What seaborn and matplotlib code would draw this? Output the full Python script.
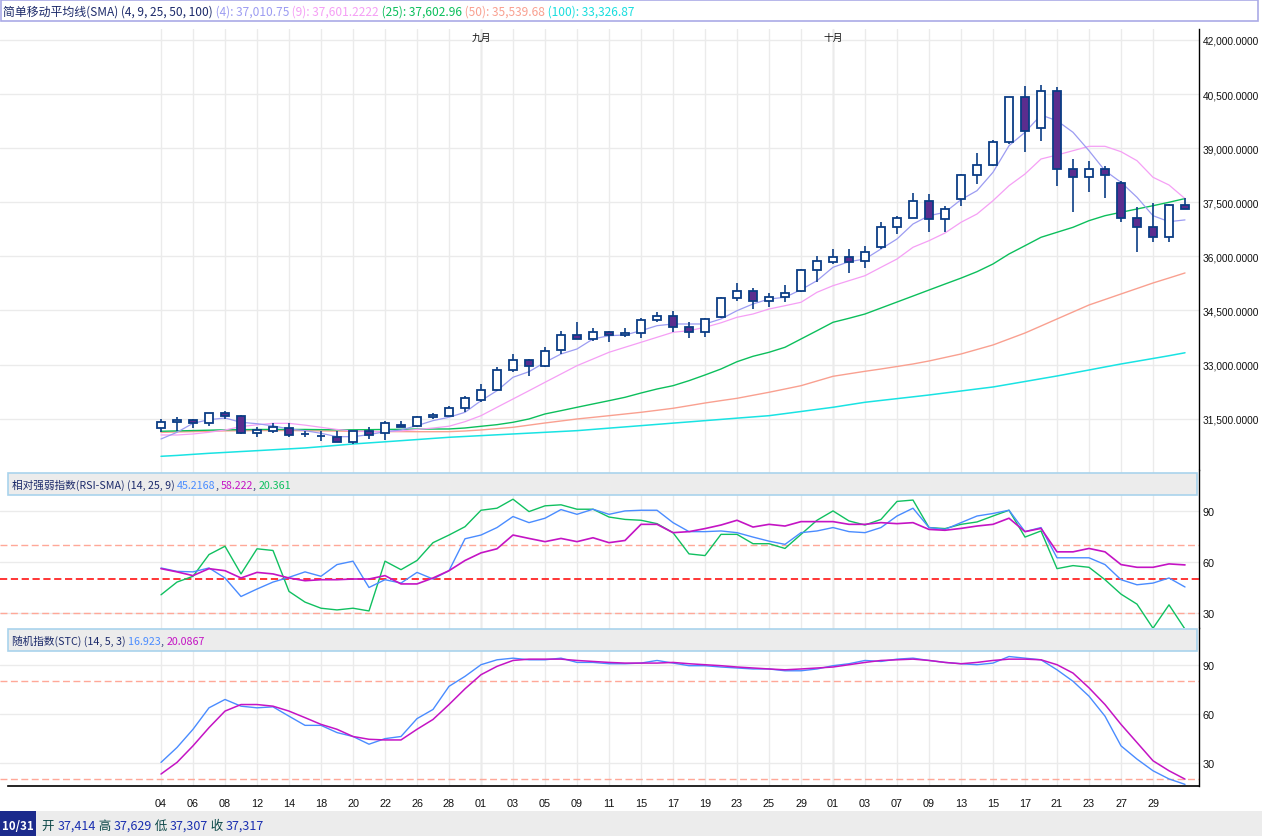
import numpy as np
import matplotlib
matplotlib.use("Agg")
import matplotlib.pyplot as plt
from matplotlib.patches import Rectangle
import seaborn as sns

# =========================
# Data
# =========================
days = [4, 5, 6, 7, 8, 11, 12, 13, 14, 15, 18, 19, 20, 21, 22, 25, 26, 27, 28, 29,
        1, 2, 3, 4, 5, 8, 9, 10, 11, 12, 15, 16, 17, 18, 19, 22, 23, 24, 25, 26, 29, 30,
        1, 2, 3, 6, 7, 8, 9, 10, 13, 14, 15, 16, 17, 20, 21, 22, 23, 24, 27, 28, 29, 30, 31]
month_names = ["九月", "十月"]

open_ = [31233, 31399, 31455, 31372, 31658, 31582, 31094, 31167, 31233, 31075,
         31028, 31000, 30844, 31149, 31094, 31334, 31306, 31538, 31582, 31787,
         32026, 32303, 32841, 33118, 32952, 33396, 33811, 33700, 33895, 33811,
         33867, 34228, 34339, 34033, 33895, 34311, 34838, 35032, 34771, 34865,
         35048, 35614, 35850, 35975, 35880, 36252, 36807, 37056, 37528, 37028,
         37583, 38248, 38526, 39163, 40411, 39552, 40578, 38415, 38193, 38415,
         38026, 37056, 36807, 36529, 37414]
high = [31490, 31538, 31491, 31660, 31720, 31611, 31260, 31371, 31380, 31149,
        31149, 31149, 31149, 31260, 31445, 31427, 31582, 31649, 31860, 32137,
        32461, 32924, 33285, 33154, 33479, 33939, 34180, 34014, 33922, 34006,
        34283, 34450, 34477, 34172, 34283, 34865, 35262, 35123, 34976, 35206,
        35650, 36019, 36200, 36210, 36290, 36946, 37128, 37749, 37730, 37405,
        38284, 38867, 39227, 40411, 40733, 40761, 40705, 38700, 38653, 38515,
        38099, 37378, 37472, 37452, 37629]
low = [31122, 31149, 31233, 31288, 31491, 31066, 30983, 31102, 30983, 31000,
       30889, 30844, 30797, 30936, 30908, 31278, 31260, 31491, 31560, 31676,
       31970, 32275, 32785, 32675, 32924, 33285, 33700, 33645, 33617, 33756,
       33728, 34172, 33911, 33728, 33773, 34283, 34771, 34540, 34604, 34727,
       35020, 35281, 35795, 35530, 35686, 36200, 36621, 37056, 36684, 36684,
       37405, 38007, 38498, 39116, 38903, 39208, 37960, 37239, 37793, 37610,
       36945, 36130, 36407, 36407, 37307]
close = [31399, 31455, 31380, 31649, 31582, 31094, 31186, 31260, 31047, 31080,
         31030, 30844, 31149, 31047, 31371, 31278, 31538, 31602, 31796, 32064,
         32303, 32841, 33118, 32952, 33368, 33811, 33700, 33895, 33811, 33867,
         34228, 34339, 34033, 33895, 34256, 34838, 35032, 34771, 34865, 34976,
         35614, 35864, 35975, 35853, 36130, 36807, 37056, 37528, 37028, 37305,
         38248, 38526, 39163, 40411, 39485, 40578, 38415, 38193, 38415, 38248,
         37056, 36807, 36529, 37416, 37317]

sma4 = [30936, 31122, 31371, 31472, 31518, 31399, 31360, 31300, 31214, 31167,
        31094, 31000, 31000, 31056, 31139, 31186, 31306, 31445, 31538, 31676,
        31998, 32275, 32647, 32802, 33063, 33293, 33432, 33709, 33800, 33820,
        33939, 34078, 34125, 34125, 34125, 34264, 34494, 34680, 34818, 34865,
        35076, 35326, 35697, 35853, 35927, 36205, 36482, 36898, 37128, 37222,
        37572, 37822, 38332, 39069, 39441, 39920, 39762, 39441, 38930, 38376,
        38054, 37638, 37128, 36962, 37011]
sma9 = [31047, 31047, 31075, 31122, 31186, 31280, 31330, 31370, 31370, 31320,
        31260, 31200, 31160, 31140, 31140, 31160, 31200, 31240, 31290, 31416,
        31582, 31815, 32045, 32275, 32508, 32738, 32969, 33154, 33340, 33479,
        33617, 33756, 33895, 33939, 34033, 34158, 34311, 34402, 34540, 34632,
        34727, 35004, 35187, 35326, 35464, 35697, 35927, 36252, 36435, 36648,
        36945, 37175, 37544, 37960, 38284, 38700, 38811, 38930, 39052, 39052,
        38903, 38653, 38193, 37979, 37601]
sma25 = [31150, 31160, 31170, 31180, 31190, 31195, 31200, 31200, 31200, 31200,
         31195, 31190, 31190, 31195, 31200, 31205, 31210, 31212, 31214, 31241,
         31288, 31333, 31399, 31491, 31630, 31721, 31815, 31907, 31998, 32092,
         32211, 32322, 32414, 32553, 32711, 32877, 33079, 33229, 33340, 33479,
         33709, 33939, 34172, 34283, 34402, 34568, 34734, 34900, 35067, 35233,
         35397, 35575, 35789, 36066, 36296, 36529, 36668, 36806, 36990, 37128,
         37222, 37314, 37405, 37500, 37603]
sma50 = [31120, 31130, 31140, 31150, 31160, 31165, 31170, 31170, 31170, 31165,
         31160, 31155, 31150, 31145, 31140, 31140, 31138, 31138, 31139, 31158,
         31186, 31223, 31260, 31320, 31380, 31435, 31491, 31536, 31582, 31629,
         31676, 31731, 31787, 31860, 31934, 32000, 32064, 32148, 32231, 32322,
         32414, 32544, 32674, 32744, 32813, 32877, 32946, 33016, 33099, 33196,
         33293, 33418, 33543, 33709, 33875, 34069, 34264, 34458, 34652, 34804,
         34957, 35109, 35262, 35400, 35540]
sma100 = [30456, 30480, 30510, 30539, 30563, 30588, 30612, 30637, 30662, 30687,
          30723, 30760, 30797, 30828, 30858, 30889, 30920, 30952, 30983, 31006,
          31029, 31052, 31075, 31098, 31121, 31144, 31167, 31202, 31237, 31271,
          31306, 31341, 31376, 31410, 31445, 31479, 31514, 31548, 31582, 31640,
          31698, 31757, 31815, 31885, 31954, 32005, 32055, 32105, 32156, 32212,
          32267, 32323, 32378, 32454, 32530, 32607, 32683, 32766, 32849, 32933,
          33016, 33092, 33168, 33245, 33327]

rsi = [56.4, 54.4, 54.1, 56.4, 50.5, 39.6, 44.0, 48.1, 50.9, 54.1,
       51.5, 58.4, 60.4, 44.9, 49.5, 47.5, 53.8, 49.9, 54.8, 73.6,
       75.8, 80.2, 86.7, 83.1, 85.7, 90.8, 88.0, 91.0, 88.0, 90.0,
       90.4, 90.4, 83.1, 77.8, 77.8, 78.2, 77.2, 74.6, 72.2, 70.3,
       77.2, 78.2, 80.2, 77.8, 77.2, 80.2, 87.0, 91.6, 80.2, 79.1,
       83.1, 87.0, 88.5, 90.4, 77.8, 80.2, 62.4, 62.4, 62.4, 58.4,
       49.5, 46.5, 47.5, 50.5, 45.2]
rsi_sma = [56.0, 54.1, 51.9, 56.0, 54.8, 50.5, 53.8, 52.9, 50.5, 48.9,
           49.5, 49.5, 49.9, 49.9, 51.9, 47.0, 47.0, 50.5, 54.8, 60.8,
           65.3, 67.7, 75.8, 73.8, 71.9, 73.8, 71.9, 74.2, 71.3, 72.6,
           82.1, 82.1, 77.2, 77.8, 79.6, 81.7, 84.5, 80.5, 82.1, 81.1,
           83.7, 83.7, 83.7, 82.1, 82.1, 83.1, 82.5, 83.1, 79.1, 78.6,
           79.7, 81.1, 82.1, 85.7, 77.8, 79.7, 65.9, 65.9, 67.9, 65.9,
           58.4, 56.8, 56.8, 58.8, 58.2]
rsi_fast = [40.6, 48.1, 51.5, 64.3, 69.2, 52.9, 67.7, 66.7, 42.6, 36.3,
            32.7, 31.7, 32.7, 31.1, 60.4, 55.4, 60.8, 71.3, 75.8, 80.7,
            90.4, 91.6, 96.9, 89.6, 93.0, 93.6, 91.0, 91.0, 86.4, 85.0,
            84.5, 82.5, 77.2, 64.7, 63.7, 76.2, 76.2, 70.7, 70.7, 67.9,
            76.2, 84.5, 90.0, 84.1, 81.7, 85.0, 95.6, 96.4, 80.2, 79.6,
            82.1, 83.5, 87.0, 90.4, 74.6, 78.2, 56.0, 57.8, 56.8, 49.5,
            41.0, 35.1, 20.9, 34.7, 20.4]

stc_k = [30.3, 39.4, 50.5, 63.6, 68.7, 64.6, 63.6, 64.2, 58.5, 52.9,
         52.9, 48.5, 46.1, 41.4, 44.8, 46.1, 57.0, 62.6, 76.7, 82.8,
         89.9, 92.9, 93.9, 92.9, 92.9, 93.9, 91.3, 91.3, 90.5, 90.5,
         90.9, 92.5, 90.9, 89.3, 89.3, 88.5, 87.9, 87.3, 87.3, 86.2,
         86.2, 87.3, 89.3, 90.5, 92.5, 91.9, 93.3, 93.9, 92.5, 91.3,
         90.5, 89.9, 90.9, 94.9, 93.9, 92.9, 86.8, 79.8, 70.7, 58.5,
         40.4, 32.3, 25.2, 20.2, 16.9]
stc_d = [23.2, 30.3, 40.4, 51.5, 61.6, 65.6, 65.6, 64.6, 61.6, 57.6,
         53.5, 50.5, 46.1, 44.4, 44.0, 44.0, 50.5, 56.5, 65.6, 75.2,
         83.8, 88.9, 92.5, 93.3, 93.3, 93.3, 92.5, 91.9, 91.3, 90.9,
         90.9, 90.9, 91.3, 90.5, 89.9, 89.3, 88.5, 87.9, 87.3, 86.8,
         87.3, 87.9, 88.5, 89.9, 91.3, 92.5, 92.9, 93.3, 92.5, 91.3,
         90.5, 91.3, 92.5, 93.3, 93.3, 92.9, 89.9, 84.8, 75.8, 65.6,
         53.5, 42.4, 31.3, 25.2, 20.1]

price_ticks = [31500, 33000, 34500, 36000, 37500, 39000, 40500, 42000]
osc_ticks = [30, 60, 90]

# =========================
# Style
# =========================
sns.set_style("white")
CJK = ["Noto Sans CJK SC", "DejaVu Sans"]
plt.rcParams["font.family"] = CJK
NUM_FONT = "Liberation Sans"

C_EDGE = "#0b3d85"
C_DOWN = "#5b2d8e"
C_GRID = "#ebebeb"
C_MONTH = "#d4d4d4"
C_NAVY = "#1c2a6a"

W, H = 1262, 837
fig = plt.figure(figsize=(W / 100, H / 100), dpi=100, facecolor="white")


def px_axes(x0, y0, x1, y1):
    return fig.add_axes([x0 / W, 1 - y1 / H, (x1 - x0) / W, (y1 - y0) / H])


idx = np.arange(len(close))
o = np.array(open_)
c = np.array(close)
month_starts = [i for i in range(1, len(days)) if days[i] < days[i - 1]]
tick_pos = idx[::2][:-1]
tick_lab = [f"{days[i]:02d}" for i in tick_pos]
XL = (-161 / 16, (1199 - 161) / 16)


def base_style(ax, ylim, yticks, fmt, size=7.8):
    ax.set_xlim(*XL)
    ax.set_ylim(*ylim)
    for s in ["top", "left", "bottom"]:
        ax.spines[s].set_visible(False)
    ax.spines["right"].set_color("black")
    ax.spines["right"].set_linewidth(1.0)
    ax.set_xticks(tick_pos)
    ax.set_xticklabels([])
    ax.yaxis.tick_right()
    ax.set_yticks(yticks)
    ax.set_yticklabels([fmt(v) for v in yticks], family=NUM_FONT, fontsize=size, color="#111111")
    ax.tick_params(axis="both", length=0, pad=2.5)
    ax.grid(True, color=C_GRID, lw=1.0)
    ax.set_axisbelow(True)
    for m in month_starts:
        ax.axvline(m, color=C_MONTH, lw=1.0, zorder=0.5)
    ax.set_xlabel("")
    ax.set_ylabel("")


# =========================
# 1. PRICE + SMA
# =========================
ax1 = px_axes(0, 30, 1199, 471)
base_style(ax1, (30076, 42305), price_ticks, lambda v: f"{v:,.4f}", size=7.3)

sns.lineplot(x=idx, y=sma100, ax=ax1, color="#19e3e3", lw=1.1)
sns.lineplot(x=idx, y=sma50, ax=ax1, color="#f9a090", lw=1.0)
sns.lineplot(x=idx, y=sma25, ax=ax1, color="#0cbf5c", lw=1.0)
sns.lineplot(x=idx, y=sma9, ax=ax1, color="#f59ff5", lw=0.9)
sns.lineplot(x=idx, y=sma4, ax=ax1, color="#9c9cf2", lw=0.9)

up = c >= o
bottom = np.minimum(o, c)
height = np.abs(c - o)
ax1.vlines(idx, low, high, color=C_EDGE, lw=1.2, zorder=3)
ax1.bar(idx[up], height[up], bottom=bottom[up], width=0.52, color="white",
        edgecolor=C_EDGE, lw=1.3, zorder=4)
ax1.bar(idx[~up], height[~up], bottom=bottom[~up], width=0.52, color=C_DOWN,
        edgecolor=C_EDGE, lw=1.3, zorder=4)

for m, name in zip(month_starts, month_names):
    ax1.text(m, 1 - 8 / 441, name, transform=ax1.get_xaxis_transform(),
             ha="center", va="center", fontsize=7, color="#111111")

# =========================
# 2. RSI
# =========================
ax2 = px_axes(0, 471, 1199, 629)
base_style(ax2, (21.05, 114.1), osc_ticks, lambda v: f"{v}")
ax2.axhline(70, color="#ffa898", lw=1.0, ls=(0, (5, 2.5)))
ax2.axhline(30, color="#ffa898", lw=1.0, ls=(0, (5, 2.5)))
ax2.axhline(50, color="#ff2525", lw=1.3, ls=(0, (4, 2)))
sns.lineplot(x=idx, y=rsi_fast, ax=ax2, color="#10c060", lw=1.0)
sns.lineplot(x=idx, y=rsi, ax=ax2, color="#4a8cff", lw=1.0)
sns.lineplot(x=idx, y=rsi_sma, ax=ax2, color="#c414c4", lw=1.2)

# =========================
# 3. STOCHASTIC
# =========================
ax3 = px_axes(0, 629, 1199, 787)
base_style(ax3, (15.9, 112.3), osc_ticks, lambda v: f"{v}")
ax3.axhline(80, color="#ffa898", lw=1.0, ls=(0, (5, 2.5)))
ax3.axhline(20, color="#ffa898", lw=1.0, ls=(0, (5, 2.5)))
sns.lineplot(x=idx, y=stc_k, ax=ax3, color="#4a8cff", lw=1.0)
sns.lineplot(x=idx, y=stc_d, ax=ax3, color="#c414c4", lw=1.1)
ax3.set_xticklabels(tick_lab, family=NUM_FONT, fontsize=7.8, color="#111111")
ax3.tick_params(axis="x", pad=9)
ax3.spines["bottom"].set_visible(True)
ax3.spines["bottom"].set_color("black")
ax3.spines["bottom"].set_linewidth(1.2)
ax3.spines["bottom"].set_bounds(XL[0] + 8 / 16, XL[1])

# =========================
# Header boxes and texts
# =========================
def box(x0, y0, x1, y1, fc, ec, lw=1.0):
    fig.add_artist(Rectangle((x0 / W, 1 - y1 / H), (x1 - x0) / W, (y1 - y0) / H,
                             transform=fig.transFigure, facecolor=fc, edgecolor=ec, lw=lw, zorder=2))


renderer = fig.canvas.get_renderer()


def parts_text(x_px, base_px, parts, size=8.0, weight="normal"):
    x = x_px
    for s, col in parts:
        t = fig.text(x / W, 1 - base_px / H, s, color=col, fontsize=size, family=CJK,
                     ha="left", va="baseline", weight=weight, zorder=5)
        x = t.get_window_extent(renderer=renderer).x1


box(0.5, 0.5, 1258, 22, "white", "#aaaae6", 1.2)
parts_text(3, 16, [("简单移动平均线(SMA) (4, 9, 25, 50, 100)", C_NAVY),
                   (" (4): 37,010.75", "#9c9cf2"),
                   (" (9): 37,601.2222", "#f59ff5"),
                   (" (25): 37,602.96", "#0cbf5c"),
                   (" (50): 35,539.68", "#f9a090"),
                   (" (100): 33,326.87", "#19dede")], size=8.6)

box(8, 473.5, 1197, 495.5, "#ececec", "#a9d3ec", 1.2)
parts_text(12, 489, [("相对强弱指数(RSI-SMA) (14, 25, 9) ", C_NAVY),
                     ("45.2168", "#4a8cff"), (", ", C_NAVY),
                     ("58.222", "#c414c4"), (", ", C_NAVY),
                     ("20.361", "#10c060")], size=7.7)

box(8, 629.5, 1197, 651.5, "#ececec", "#a9d3ec", 1.2)
parts_text(12, 645, [("随机指数(STC) (14, 5, 3) ", C_NAVY),
                     ("16.923", "#4a8cff"), (", ", C_NAVY),
                     ("20.0867", "#c414c4")], size=7.7)

# bottom status bar
box(0, 812, 1262, 837, "#ececec", "none", 0)
box(0, 812, 36, 837, "#1b2a8c", "none", 0)
parts_text(2, 830, [("10/31", "white")], size=8.3, weight="bold")
parts_text(42, 830, [("开 ", "#0c4848"), ("37,414", "#1a2fb0"),
                     (" 高 ", "#0c4848"), ("37,629", "#1a2fb0"),
                     (" 低 ", "#0c4848"), ("37,307", "#1a2fb0"),
                     (" 收 ", "#0c4848"), ("37,317", "#1a2fb0")], size=9)

fig.savefig("out.png", dpi=100, facecolor="white")
